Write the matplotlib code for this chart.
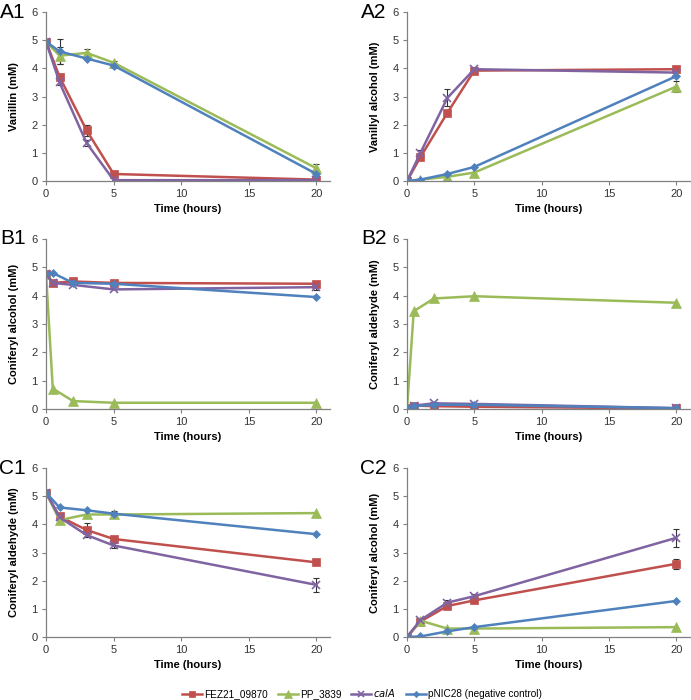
import matplotlib.pyplot as plt

plt.rcParams['font.family'] = ['Liberation Sans', 'DejaVu Sans']

# time points
t_a = [0, 1, 3, 5, 20]
t_b = [0, 0.5, 2, 5, 20]
t_c = [0, 1, 3, 5, 20]

series_names = ['FEZ21_09870', 'PP_3839', '$\\it{calA}$', 'pNIC28 (negative control)']

# A1 Vanillin
a1_fez = [4.95, 3.70, 1.80, 0.25, 0.05]
a1_pp = [4.95, 4.45, 4.55, 4.20, 0.45]
a1_cal = [4.95, 3.50, 1.35, 0.03, 0.03]
a1_pnic = [4.95, 4.60, 4.35, 4.10, 0.25]
a1_err = {'fez': [0, 0.1, 0.2, 0.1, 0], 'pp': [0, 0.3, 0.12, 0.05, 0.15],
          'cal': [0, 0.1, 0.1, 0, 0], 'pnic': [0, 0.45, 0, 0.08, 0]}

# A2 Vanillyl alcohol
a2_fez = [0, 0.85, 2.42, 3.92, 3.97]
a2_pp = [0, 0.05, 0.15, 0.30, 3.35]
a2_cal = [0, 1.00, 2.95, 3.97, 3.85]
a2_pnic = [0, 0.05, 0.25, 0.50, 3.72]
a2_err = {'fez': [0, 0, 0, 0, 0], 'pp': [0, 0, 0, 0, 0.2],
          'cal': [0, 0.1, 0.3, 0.08, 0], 'pnic': [0, 0, 0, 0, 0]}

# B1 Coniferyl alcohol
b1_fez = [4.78, 4.45, 4.50, 4.45, 4.42]
b1_pp = [4.78, 0.72, 0.28, 0.22, 0.22]
b1_cal = [4.78, 4.45, 4.38, 4.22, 4.30]
b1_pnic = [4.78, 4.80, 4.45, 4.42, 3.95]
b1_err = {'fez': [0, 0, 0, 0, 0], 'pp': [0, 0, 0, 0, 0],
          'cal': [0, 0, 0, 0, 0.1], 'pnic': [0, 0, 0, 0, 0]}

# B2 Coniferyl aldehyde
b2_fez = [0.02, 0.12, 0.10, 0.08, 0.02]
b2_pp = [0, 3.45, 3.90, 3.98, 3.75]
b2_cal = [0.02, 0.12, 0.20, 0.18, 0.03]
b2_pnic = [0.02, 0.10, 0.15, 0.15, 0.03]
b2_err = {'fez': [0, 0, 0, 0, 0], 'pp': [0, 0, 0, 0, 0],
          'cal': [0, 0, 0, 0, 0], 'pnic': [0, 0, 0, 0, 0]}

# C1 Coniferyl aldehyde
c1_fez = [5.12, 4.28, 3.80, 3.48, 2.65]
c1_pp = [5.12, 4.15, 4.35, 4.35, 4.40]
c1_cal = [5.12, 4.25, 3.62, 3.25, 1.85]
c1_pnic = [5.12, 4.60, 4.50, 4.38, 3.65]
c1_err = {'fez': [0, 0, 0.25, 0.08, 0], 'pp': [0, 0, 0, 0.1, 0],
          'cal': [0, 0, 0.08, 0.08, 0.25], 'pnic': [0, 0, 0, 0.1, 0]}

# C2 Coniferyl alcohol
c2_fez = [0, 0.55, 1.10, 1.30, 2.60]
c2_pp = [0, 0.58, 0.30, 0.30, 0.35]
c2_cal = [0, 0.60, 1.22, 1.45, 3.52]
c2_pnic = [0, 0.02, 0.20, 0.35, 1.28]
c2_err = {'fez': [0, 0, 0, 0.08, 0.18], 'pp': [0, 0.05, 0, 0, 0],
          'cal': [0, 0, 0.08, 0.08, 0.32], 'pnic': [0, 0, 0, 0, 0]}

colors = {'fez': '#C0504D', 'pp': '#9BBB59', 'cal': '#8064A2', 'pnic': '#4F81BD'}
markers = {'fez': ('s', 6), 'pp': ('^', 6.5), 'cal': ('x', 6), 'pnic': ('D', 4)}

panels = [
    ('A1', 'Vanillin (mM)', t_a, a1_fez, a1_pp, a1_cal, a1_pnic, a1_err, [0.0666, 0.7414, 0.411, 0.2414]),
    ('A2', 'Vanillyl alcohol (mM)', t_a, a2_fez, a2_pp, a2_cal, a2_pnic, a2_err, [0.589, 0.7414, 0.409, 0.2414]),
    ('B1', 'Coniferyl alcohol (mM)', t_b, b1_fez, b1_pp, b1_cal, b1_pnic, b1_err, [0.0666, 0.4157, 0.411, 0.2429]),
    ('B2', 'Coniferyl aldehyde (mM)', t_b, b2_fez, b2_pp, b2_cal, b2_pnic, b2_err, [0.589, 0.4157, 0.409, 0.2429]),
    ('C1', 'Coniferyl aldehyde (mM)', t_c, c1_fez, c1_pp, c1_cal, c1_pnic, c1_err, [0.0666, 0.09, 0.411, 0.2414]),
    ('C2', 'Coniferyl alcohol (mM)', t_c, c2_fez, c2_pp, c2_cal, c2_pnic, c2_err, [0.589, 0.09, 0.409, 0.2414]),
]

fig = plt.figure(figsize=(6.91, 7.0), dpi=100)
handles = []
for label, ylab, t, fez, pp, cal, pnic, err, pos in panels:
    ax = fig.add_axes(pos)
    data = {'fez': fez, 'pp': pp, 'cal': cal, 'pnic': pnic}
    hs = []
    for key in ['fez', 'pp', 'cal', 'pnic']:
        m, ms = markers[key]
        # only draw error bars that are visible in the original
        idx = [i for i, e in enumerate(err[key]) if e > 0]
        if idx:
            ax.errorbar([t[i] for i in idx], [data[key][i] for i in idx],
                        yerr=[err[key][i] for i in idx], fmt='none', ecolor='#333333',
                        elinewidth=0.8, capsize=2.5, capthick=0.8, zorder=1)
        h, = ax.plot(t, data[key], color=colors[key], lw=1.8, marker=m, ms=ms,
                     mew=1.2 if m == 'x' else 0.5, mec=colors[key], zorder=2)
        hs.append(h)
    handles = hs
    ax.set_xlim(0, 21)
    ax.set_ylim(0, 6)
    ax.set_xticks([0, 5, 10, 15, 20])
    ax.set_yticks(range(7))
    for s in ['top', 'right']:
        ax.spines[s].set_visible(False)
    for s in ['left', 'bottom']:
        ax.spines[s].set_color('#808080')
        ax.spines[s].set_linewidth(0.9)
    ax.tick_params(axis='both', labelsize=8, colors='#808080', labelcolor='#333333',
                   length=3, width=0.8, pad=3)
    ax.set_xlabel('Time (hours)', fontsize=8, fontweight='bold', labelpad=3)
    ax.set_ylabel(ylab, fontsize=8, fontweight='bold', labelpad=9)
    ax.text(-0.072, 1.0, label, transform=ax.transAxes, fontsize=15, ha='right', va='center')

fig.legend(handles, series_names, loc='center', bbox_to_anchor=(0.524, 0.01), ncol=4,
           frameon=False, fontsize=7.2, handlelength=2.0, handletextpad=0.2, columnspacing=1.0,
           markerscale=0.8)

fig.savefig('out.png', dpi=100)
